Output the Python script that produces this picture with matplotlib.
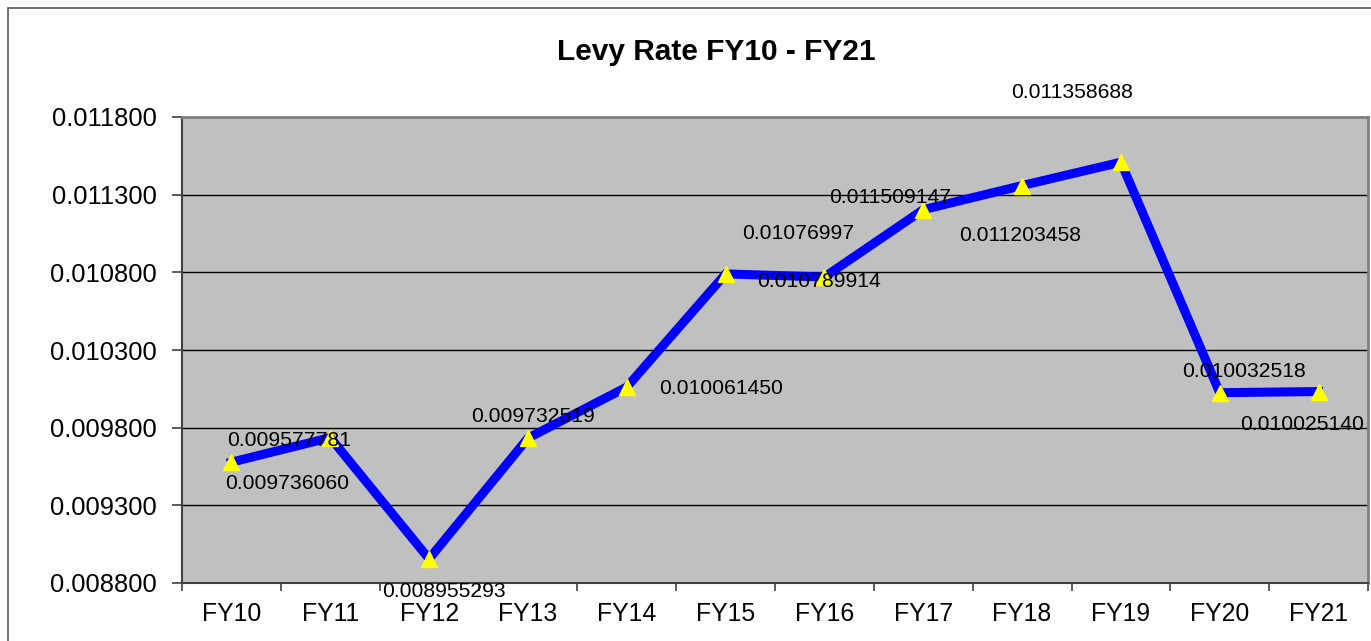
"""
Levy Rate FY10 - FY21 line chart
"""

import matplotlib
matplotlib.use("Agg")
import matplotlib.pyplot as plt
from matplotlib.patches import Rectangle

plt.rcParams["font.family"] = ["Liberation Sans", "DejaVu Sans"]

# --- data ---
years = ["FY10", "FY11", "FY12", "FY13", "FY14", "FY15",
         "FY16", "FY17", "FY18", "FY19", "FY20", "FY21"]
rates = [0.009577781, 0.009736060, 0.008955293, 0.009732519, 0.010061450, 0.010789914,
         0.01076997, 0.011203458, 0.011358688, 0.011509147, 0.010025140, 0.010032518]
label_texts = ["0.009577781", "0.009736060", "0.008955293", "0.009732519", "0.010061450",
               "0.010789914", "0.01076997", "0.011203458", "0.011358688", "0.011509147",
               "0.010025140", "0.010032518"]
# label offsets from their point (pixels, x right / y up)
label_offsets = [(58, 22), (-43, -46), (15, -33), (5, 22), (94, -1), (93, -8),
                 (-26, 43), (97, -26), (50, 93), (-231, -35), (82, -32), (-75, 20)]
yticks = [0.0088, 0.0093, 0.0098, 0.0103, 0.0108, 0.0113, 0.0118]

fig = plt.figure(figsize=(13.71, 6.41), dpi=100)
ax = fig.add_axes([182 / 1371, 58 / 641, 1186 / 1371, 466 / 641])

# outer chart frame
fig.patches.append(Rectangle((8 / 1371, -0.1), 1.2, 1.1 - 8 / 641,
                             transform=fig.transFigure, fill=False,
                             edgecolor="#555555", linewidth=1.2))

ax.set_facecolor("#C0C0C0")
x = list(range(len(years)))
ax.plot(x, rates, color="#0000FF", linewidth=6.5, marker="^", markersize=12,
        markerfacecolor="#FFFF00", markeredgecolor="#FFFF00", zorder=3,
        solid_joinstyle="miter")

for xi, yi, txt, off in zip(x, rates, label_texts, label_offsets):
    ax.annotate(txt, (xi, yi), textcoords="offset pixels", xytext=off,
                ha="center", va="center", fontsize=15.2, color="black", zorder=4,
                annotation_clip=False)

ax.set_xlim(-0.5, len(years) - 0.5)
ax.set_ylim(yticks[0], yticks[-1])
ax.set_yticks(yticks)
ax.set_yticklabels([f"{v:.6f}" for v in yticks], fontsize=18.4)
ax.yaxis.grid(True, color="black", linewidth=1)
ax.set_axisbelow(True)

ax.set_xticks(x)
ax.set_xticklabels(years, fontsize=17.8)
ax.set_xticks([i - 0.5 for i in range(len(years) + 1)], minor=True)
ax.tick_params(axis="x", which="major", length=0, pad=14)
ax.tick_params(axis="x", which="minor", length=6, width=1.2, direction="out", color="#404040")
ax.tick_params(axis="y", length=7, width=1.2, direction="out", color="#404040", pad=11)

for side in ["left", "bottom"]:
    ax.spines[side].set_color("#404040")
    ax.spines[side].set_linewidth(1.5)
for side in ["top", "right"]:
    ax.spines[side].set_color("#808080")
    ax.spines[side].set_linewidth(2)

fig.text(716 / 1371, 1 - 52 / 641, "Levy Rate FY10 - FY21", ha="center", va="center",
         fontsize=21.5, fontweight="bold")

fig.savefig("out.png", dpi=100)
